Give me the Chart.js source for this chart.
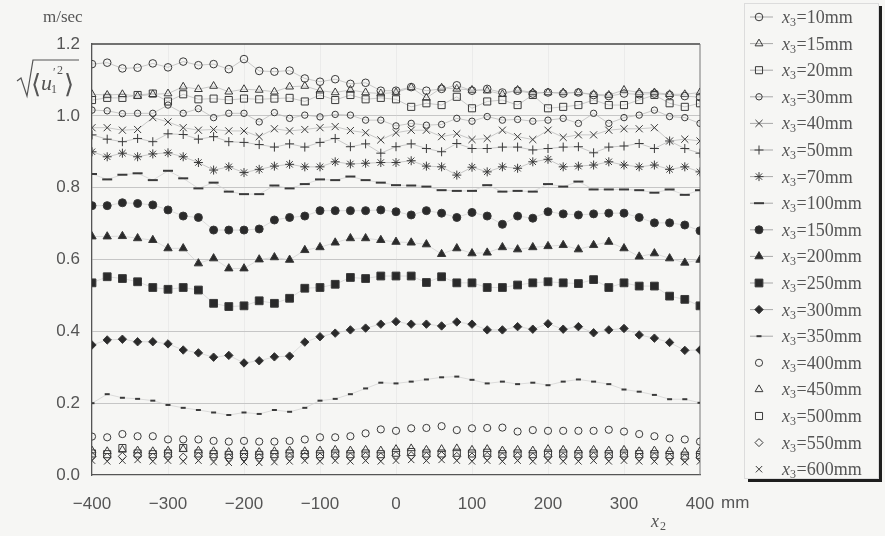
<!DOCTYPE html>
<html>
<head>
<meta charset="utf-8">
<script src="https://cdn.jsdelivr.net/npm/chart.js@4.4.1/dist/chart.umd.min.js"></script>
<style>
  html, body { margin: 0; padding: 0; background: #f6f6f4; }
  #wrap { width: 885px; height: 536px; }
</style>
</head>
<body>
<div id="wrap"><canvas id="chart" width="885" height="536"></canvas></div>
<script>
// positions across the channel (mm)
const xPositions = [-400, -380, -360, -340, -320, -300, -280, -260, -240, -220, -200, -180, -160, -140, -120, -100, -80, -60, -40, -20,
    0, 20, 40, 60, 80, 100, 120, 140, 160, 180, 200, 220, 240, 260, 280, 300, 320, 340, 360, 380, 400];

const seriesNames = ['10mm', '15mm', '20mm', '30mm', '40mm', '50mm', '70mm', '100mm', '150mm', '200mm',
    '250mm', '300mm', '350mm', '400mm', '450mm', '500mm', '550mm', '600mm'];

const xTicks = [-400, -300, -200, -100, 0, 100, 200, 300, 400];
const yTicks = [0.0, 0.2, 0.4, 0.6, 0.8, 1.0, 1.2];

// rms velocity (m/sec), one array per height x3
const s10 = [1.144, 1.148, 1.132, 1.134, 1.146, 1.135, 1.151, 1.141, 1.144, 1.130, 1.158, 1.125, 1.123, 1.126, 1.104, 1.095, 1.102, 1.089, 1.092, 1.070,
    1.070, 1.080, 1.070, 1.075, 1.085, 1.070, 1.075, 1.065, 1.070, 1.062, 1.065, 1.062, 1.065, 1.058, 1.055, 1.062, 1.060, 1.062, 1.058, 1.055, 1.052];
const s15 = [1.060, 1.058, 1.060, 1.055, 1.060, 1.062, 1.081, 1.074, 1.083, 1.067, 1.074, 1.072, 1.067, 1.081, 1.083, 1.070, 1.065, 1.072, 1.065, 1.062,
    1.065, 1.079, 1.050, 1.078, 1.075, 1.072, 1.070, 1.060, 1.072, 1.065, 1.065, 1.065, 1.065, 1.060, 1.058, 1.072, 1.065, 1.065, 1.060, 1.060, 1.065];
const s20 = [1.044, 1.050, 1.050, 1.058, 1.062, 1.040, 1.060, 1.046, 1.048, 1.044, 1.048, 1.046, 1.048, 1.050, 1.040, 1.058, 1.044, 1.058, 1.046, 1.050,
    1.046, 1.025, 1.035, 1.030, 1.053, 1.021, 1.040, 1.044, 1.030, 1.058, 1.021, 1.025, 1.030, 1.044, 1.030, 1.030, 1.044, 1.058, 1.035, 1.025, 1.035];
const s30 = [1.016, 1.014, 1.006, 1.007, 1.007, 1.030, 1.007, 1.020, 0.995, 1.007, 1.007, 0.983, 1.009, 0.993, 1.002, 0.997, 1.004, 1.002, 0.988, 0.988,
    0.972, 0.979, 0.974, 0.976, 0.993, 0.985, 0.998, 0.988, 0.990, 0.985, 0.988, 0.993, 0.979, 1.007, 0.979, 0.995, 1.002, 1.016, 0.998, 0.995, 0.979];
const s40 = [0.967, 0.967, 0.960, 0.962, 0.995, 0.983, 0.967, 0.960, 0.962, 0.958, 0.958, 0.942, 0.964, 0.958, 0.962, 0.967, 0.970, 0.959, 0.953, 0.933,
    0.953, 0.960, 0.960, 0.942, 0.950, 0.934, 0.937, 0.960, 0.942, 0.934, 0.960, 0.940, 0.947, 0.947, 0.960, 0.964, 0.964, 0.967, 0.930, 0.935, 0.930];
const s50 = [0.947, 0.935, 0.928, 0.937, 0.928, 0.950, 0.948, 0.935, 0.942, 0.928, 0.926, 0.920, 0.913, 0.922, 0.913, 0.926, 0.937, 0.914, 0.922, 0.896,
    0.914, 0.922, 0.909, 0.900, 0.923, 0.909, 0.909, 0.913, 0.913, 0.905, 0.909, 0.913, 0.914, 0.897, 0.913, 0.916, 0.923, 0.909, 0.930, 0.909, 0.896];
const s70 = [0.900, 0.886, 0.896, 0.886, 0.894, 0.897, 0.886, 0.870, 0.849, 0.858, 0.842, 0.851, 0.860, 0.865, 0.858, 0.858, 0.872, 0.866, 0.868, 0.870,
    0.870, 0.875, 0.860, 0.858, 0.835, 0.857, 0.844, 0.858, 0.854, 0.872, 0.879, 0.858, 0.860, 0.863, 0.872, 0.863, 0.858, 0.863, 0.851, 0.858, 0.844];
const s100 = [0.838, 0.823, 0.836, 0.840, 0.821, 0.847, 0.826, 0.798, 0.814, 0.789, 0.782, 0.782, 0.806, 0.798, 0.810, 0.823, 0.821, 0.831, 0.821, 0.814,
    0.807, 0.806, 0.803, 0.793, 0.791, 0.791, 0.807, 0.789, 0.791, 0.789, 0.810, 0.803, 0.817, 0.795, 0.795, 0.795, 0.793, 0.786, 0.795, 0.780, 0.793];
const s150 = [0.750, 0.750, 0.758, 0.756, 0.752, 0.738, 0.721, 0.717, 0.682, 0.682, 0.682, 0.685, 0.710, 0.717, 0.721, 0.736, 0.736, 0.736, 0.736, 0.738,
    0.733, 0.724, 0.736, 0.729, 0.717, 0.731, 0.721, 0.698, 0.721, 0.715, 0.733, 0.727, 0.724, 0.727, 0.729, 0.729, 0.717, 0.702, 0.702, 0.696, 0.680];
const s200 = [0.664, 0.664, 0.665, 0.659, 0.654, 0.631, 0.631, 0.589, 0.603, 0.575, 0.575, 0.600, 0.606, 0.599, 0.626, 0.634, 0.647, 0.659, 0.659, 0.654,
    0.649, 0.647, 0.642, 0.615, 0.631, 0.617, 0.619, 0.634, 0.628, 0.634, 0.637, 0.640, 0.628, 0.640, 0.649, 0.631, 0.608, 0.617, 0.603, 0.591, 0.599];
const s250 = [0.535, 0.552, 0.547, 0.538, 0.522, 0.517, 0.522, 0.515, 0.478, 0.469, 0.471, 0.485, 0.478, 0.492, 0.520, 0.522, 0.531, 0.550, 0.547, 0.554,
    0.554, 0.554, 0.536, 0.552, 0.535, 0.535, 0.522, 0.522, 0.529, 0.535, 0.538, 0.535, 0.533, 0.544, 0.522, 0.535, 0.526, 0.526, 0.498, 0.489, 0.471];
const s300 = [0.362, 0.376, 0.378, 0.371, 0.371, 0.365, 0.348, 0.340, 0.328, 0.333, 0.312, 0.318, 0.329, 0.331, 0.370, 0.385, 0.395, 0.404, 0.409, 0.420,
    0.427, 0.420, 0.420, 0.415, 0.426, 0.420, 0.404, 0.404, 0.413, 0.406, 0.421, 0.406, 0.413, 0.396, 0.404, 0.408, 0.390, 0.381, 0.369, 0.347, 0.348];
const s350 = [0.200, 0.225, 0.215, 0.212, 0.207, 0.195, 0.187, 0.181, 0.174, 0.167, 0.174, 0.170, 0.181, 0.176, 0.187, 0.207, 0.212, 0.225, 0.241, 0.257,
    0.255, 0.260, 0.266, 0.272, 0.274, 0.265, 0.255, 0.260, 0.253, 0.257, 0.250, 0.260, 0.266, 0.260, 0.253, 0.238, 0.232, 0.223, 0.211, 0.211, 0.201];
const s400 = [0.107, 0.105, 0.114, 0.108, 0.108, 0.099, 0.099, 0.099, 0.095, 0.093, 0.095, 0.093, 0.093, 0.095, 0.099, 0.105, 0.105, 0.108, 0.116, 0.127,
    0.123, 0.130, 0.131, 0.136, 0.125, 0.130, 0.131, 0.132, 0.121, 0.125, 0.123, 0.123, 0.123, 0.123, 0.126, 0.121, 0.114, 0.108, 0.102, 0.099, 0.093];
const s450 = [0.068, 0.066, 0.070, 0.068, 0.066, 0.068, 0.072, 0.068, 0.066, 0.064, 0.066, 0.064, 0.066, 0.068, 0.066, 0.068, 0.070, 0.068, 0.070, 0.068,
    0.072, 0.074, 0.070, 0.072, 0.074, 0.070, 0.072, 0.068, 0.070, 0.068, 0.072, 0.070, 0.068, 0.070, 0.068, 0.070, 0.066, 0.068, 0.066, 0.064, 0.066];
const s500 = [0.060, 0.058, 0.075, 0.060, 0.058, 0.060, 0.075, 0.060, 0.058, 0.056, 0.058, 0.056, 0.058, 0.060, 0.058, 0.058, 0.060, 0.058, 0.060, 0.058,
    0.062, 0.064, 0.060, 0.060, 0.062, 0.060, 0.062, 0.058, 0.060, 0.058, 0.060, 0.060, 0.058, 0.060, 0.058, 0.060, 0.058, 0.058, 0.056, 0.054, 0.056];
const s550 = [0.052, 0.050, 0.052, 0.054, 0.050, 0.052, 0.050, 0.052, 0.050, 0.048, 0.050, 0.048, 0.050, 0.050, 0.052, 0.050, 0.052, 0.050, 0.052, 0.050,
    0.054, 0.054, 0.052, 0.054, 0.052, 0.050, 0.052, 0.050, 0.052, 0.050, 0.052, 0.050, 0.050, 0.052, 0.050, 0.052, 0.050, 0.050, 0.048, 0.046, 0.048];
const s600 = [0.040, 0.038, 0.040, 0.042, 0.038, 0.040, 0.038, 0.040, 0.036, 0.034, 0.036, 0.034, 0.036, 0.038, 0.040, 0.038, 0.040, 0.038, 0.040, 0.038,
    0.040, 0.042, 0.040, 0.042, 0.040, 0.038, 0.040, 0.038, 0.040, 0.038, 0.040, 0.038, 0.038, 0.040, 0.038, 0.040, 0.038, 0.038, 0.036, 0.036, 0.038];

const allSeries = [s10, s15, s20, s30, s40, s50, s70, s100, s150, s200, s250, s300, s350, s400, s450, s500, s550, s600];

// marker look for each series
const markers = [
    { style: 'circle', r: 3.8, fill: false, line: true },
    { style: 'triangle', r: 4.5, fill: false, line: true },
    { style: 'rect', r: 5, fill: false, line: true },
    { style: 'circle', r: 3.2, fill: false, line: true },
    { style: 'crossRot', r: 5, fill: false, line: true },
    { style: 'cross', r: 4.5, fill: false, line: true },
    { style: 'star', r: 4.5, fill: false, line: true },
    { style: 'line', r: 5, fill: true, line: true, bw: 2 },
    { style: 'circle', r: 4, fill: true, line: true },
    { style: 'triangle', r: 4.8, fill: true, line: true },
    { style: 'rect', r: 5.5, fill: true, line: true },
    { style: 'rectRot', r: 4.2, fill: true, line: true },
    { style: 'line', r: 2.5, fill: true, line: true, bw: 2 },
    { style: 'circle', r: 3.6, fill: false, line: false },
    { style: 'triangle', r: 4.5, fill: false, line: false },
    { style: 'rect', r: 5, fill: false, line: false },
    { style: 'rectRot', r: 4, fill: false, line: false },
    { style: 'crossRot', r: 4.5, fill: false, line: false }
];

const datasets = allSeries.map((values, i) => {
    const m = markers[i];
    return {
        label: 'x₃=' + seriesNames[i],
        data: xPositions.map((x, j) => ({ x: x, y: values[j] })),
        showLine: m.line,
        borderColor: i < 7 ? '#b4b4b4' : '#d0d0d0',
        borderWidth: 0.7,
        pointStyle: m.style,
        pointRadius: m.r,
        pointBorderWidth: m.bw || 1,
        pointBorderColor: '#3a3a3a',
        pointBackgroundColor: m.fill ? '#2a2a2a' : 'rgba(0,0,0,0)',
        fill: false
    };
});

const decorations = {
    id: 'decorations',
    beforeDraw(chart) {
        const ctx = chart.ctx;
        ctx.save();
        ctx.fillStyle = '#f6f6f4';
        ctx.fillRect(0, 0, chart.width, chart.height);
        ctx.restore();
    },
    beforeDatasetsDraw(chart) {
        const ctx = chart.ctx;
        const a = chart.chartArea;
        ctx.save();
        ctx.strokeStyle = '#444';
        ctx.lineWidth = 1.5;
        ctx.beginPath();
        ctx.moveTo(a.left, a.top);
        ctx.lineTo(a.right, a.top);
        ctx.stroke();
        ctx.strokeStyle = '#777';
        ctx.lineWidth = 1;
        ctx.beginPath();
        ctx.moveTo(a.right, a.top);
        ctx.lineTo(a.right, a.bottom);
        ctx.stroke();
        ctx.restore();
    },
    afterDraw(chart) {
        const ctx = chart.ctx;
        ctx.save();
        ctx.fillStyle = '#555';
        ctx.textBaseline = 'alphabetic';

        // y axis title
        ctx.font = '17px "Liberation Serif"';
        ctx.fillText('m/sec', 43, 22);
        ctx.strokeStyle = '#555';
        ctx.lineWidth = 1.2;
        ctx.beginPath();
        ctx.moveTo(17, 81);
        ctx.lineTo(21, 78);
        ctx.lineTo(27, 96);
        ctx.lineTo(33, 60);
        ctx.lineTo(79, 60);
        ctx.stroke();
        ctx.font = '26px "DejaVu Serif"';
        ctx.fillText('⟨', 31, 93);
        ctx.fillText('⟩', 64, 93);
        ctx.font = 'italic 22px "Liberation Serif"';
        ctx.fillText('u', 41, 90);
        ctx.font = '12px "Liberation Serif"';
        ctx.fillText('1', 51, 93);
        ctx.fillText('′', 53, 76);
        ctx.fillText('2', 57, 74);

        // x axis unit and title
        ctx.font = '17px "Liberation Sans"';
        ctx.textBaseline = 'middle';
        ctx.fillText('mm', 721, 503);
        ctx.textBaseline = 'alphabetic';
        ctx.font = 'italic 18px "Liberation Serif"';
        ctx.fillText('x', 651, 527);
        ctx.font = '12px "Liberation Serif"';
        ctx.fillText('2', 660, 530);

        // legend box with shadow
        ctx.strokeStyle = '#dcdcdc';
        ctx.lineWidth = 1;
        ctx.strokeRect(744.5, 3.5, 134, 475);
        ctx.fillStyle = '#1e1e1e';
        ctx.fillRect(879, 6, 3, 476);
        ctx.fillRect(748, 479, 134, 3);

        chart.data.datasets.forEach((ds, i) => {
            const y = 17 + i * 26.6;
            if (ds.showLine) {
                ctx.strokeStyle = '#a8a8a8';
                ctx.lineWidth = 1;
                ctx.beginPath();
                ctx.moveTo(750, y);
                ctx.lineTo(773, y);
                ctx.stroke();
            }
            ctx.fillStyle = ds.pointBackgroundColor;
            ctx.strokeStyle = ds.pointBorderColor;
            ctx.lineWidth = ds.pointBorderWidth;
            Chart.helpers.drawPoint(ctx, {
                pointStyle: ds.pointStyle,
                radius: ds.pointRadius,
                rotation: 0,
                borderWidth: ds.pointBorderWidth
            }, 759, y);

            ctx.fillStyle = '#555';
            const base = y + 6;
            let tx = 782;
            ctx.font = 'italic 18px "Liberation Serif"';
            ctx.fillText('x', tx, base);
            tx += ctx.measureText('x').width;
            ctx.font = '12px "Liberation Serif"';
            ctx.fillText('3', tx, base + 3);
            tx += ctx.measureText('3').width + 0.5;
            ctx.font = '18px "Liberation Serif"';
            ctx.fillText('=' + seriesNames[i], tx, base);
        });
        ctx.restore();
    }
};

new Chart(document.getElementById('chart'), {
    type: 'line',
    data: { datasets: datasets },
    options: {
        responsive: false,
        animation: false,
        layout: { padding: { left: 0, right: 185, top: 44, bottom: 0 } },
        plugins: {
            legend: { display: false },
            tooltip: { enabled: false }
        },
        scales: {
            x: {
                type: 'linear',
                min: -400,
                max: 400,
                afterFit: scale => { scale.height = 61; },
                afterBuildTicks: scale => { scale.ticks = xTicks.map(v => ({ value: v })); },
                ticks: {
                    padding: 19,
                    color: '#555',
                    font: { family: '"Liberation Sans", Arial', size: 17 },
                    callback: v => v < 0 ? '−' + Math.abs(v) : String(v)
                },
                grid: {
                    drawTicks: false,
                    color: ctx => (ctx.tick && Math.abs(ctx.tick.value) === 400) ? 'rgba(0,0,0,0)' : '#ebebea'
                },
                border: { color: '#555', width: 1.3 }
            },
            y: {
                min: 0,
                max: 1.2,
                afterFit: scale => { scale.width = 92; },
                afterBuildTicks: scale => { scale.ticks = yTicks.map(v => ({ value: v })); },
                ticks: {
                    padding: 12,
                    color: '#555',
                    font: { family: '"Liberation Sans", Arial', size: 17 },
                    callback: v => Number(v).toFixed(1)
                },
                grid: {
                    drawTicks: false,
                    color: ctx => (ctx.tick && (ctx.tick.value === 0 || ctx.tick.value === 1.2)) ? 'rgba(0,0,0,0)' : '#c6c6c6'
                },
                border: { color: '#555', width: 1.3 }
            }
        }
    },
    plugins: [decorations]
});
</script>
</body>
</html>
